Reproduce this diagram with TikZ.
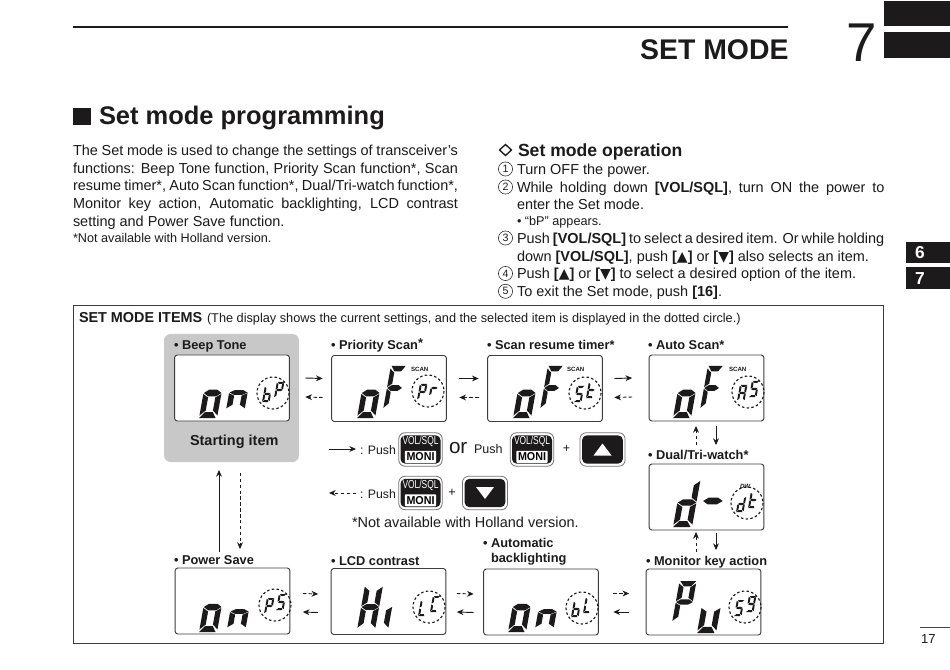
\documentclass[tikz,border=0pt]{standalone}
\usepackage{fontspec}
\setmainfont{Liberation Sans}
\newfontfamily\djv{DejaVu Sans}
\usetikzlibrary{arrows.meta,calc}
\definecolor{ink}{HTML}{1C1A1B}
\definecolor{panel}{HTML}{C8C8C8}
\newcommand\fsz[1]{\fontsize{#1}{#1}\selectfont}
\tikzset{
  ln/.style={anchor=base west,inner sep=0pt,outer sep=0pt,text=ink},
  body/.style={ln,font=\fsz{10.85}},
  small/.style={ln,font=\fsz{9.5}},
  item/.style={ln,font=\bfseries\fsz{9.6}},
  numc/.style={circle,draw=ink,line width=0.4pt,minimum size=10.6pt,inner sep=0pt,outer sep=0pt,text=ink,font=\fsz{8}},
  lcdbox/.style={draw=ink!85!white,line width=0.7pt,rounded corners=2pt,minimum width=86pt,minimum height=49.5pt,inner sep=0pt,outer sep=0pt,fill=white},
  sol/.style={draw=ink,line width=0.7pt,-{Stealth[length=5pt,width=4.4pt]}},
  dsh/.style={draw=ink,line width=0.7pt,dash pattern=on 2.6pt off 1.8pt,-{Stealth[length=5pt,width=4.4pt]}},
  dotc/.style={draw=ink,line width=0.85pt,dash pattern=on 1.9pt off 1.7pt},
  keyout/.style={draw=ink!60!white,line width=0.6pt,fill=white,rounded corners=4.5pt,inner sep=0pt,outer sep=0pt},
  keyin/.style={fill=ink,rounded corners=3.5pt,inner sep=0pt,outer sep=0pt},
  scanlbl/.style={ln,font=\bfseries\fsz{4.6}},
}
% thin segments, for the small characters in the dotted circles
\expandafter\def\csname segXa\endcsname{\fill[ink] (.16,2)--(1,2)--(.74,1.76)--(.3,1.76)--cycle;}
\expandafter\def\csname segXf\endcsname{\fill[ink] (0,1.9)--(.26,1.72)--(.26,1.2)--(0,1.06)--cycle;}
\expandafter\def\csname segXb\endcsname{\fill[ink] (1,1.9)--(.74,1.72)--(.74,1.2)--(1,1.06)--cycle;}
\expandafter\def\csname segXe\endcsname{\fill[ink] (0,.94)--(.26,.8)--(.26,.28)--(0,.1)--cycle;}
\expandafter\def\csname segXc\endcsname{\fill[ink] (1,.94)--(.74,.8)--(.74,.28)--(1,.1)--cycle;}
\expandafter\def\csname segXd\endcsname{\fill[ink] (0,0)--(.84,0)--(.72,.24)--(.28,.24)--cycle;}
\expandafter\def\csname segXg\endcsname{\fill[ink] (.06,1)--(.3,1.14)--(.72,1.14)--(.96,1)--(.72,.86)--(.3,.86)--cycle;}
% heavy segments, for the large characters
\expandafter\def\csname segLa\endcsname{\fill[ink] (.05,2)--(.98,2)--(.74,1.75)--(.3,1.75)--cycle;}
\expandafter\def\csname segLf\endcsname{\fill[ink] (0,1.88)--(.3,1.7)--(.3,1.2)--(0,1.04)--cycle;}
\expandafter\def\csname segLb\endcsname{\fill[ink] (1,1.88)--(.7,1.7)--(.7,1.2)--(1,1.04)--cycle;}
\expandafter\def\csname segLe\endcsname{\fill[ink] (0,.96)--(.3,.82)--(.3,.3)--(0,.1)--cycle;}
\expandafter\def\csname segLc\endcsname{\fill[ink] (1,.96)--(.7,.82)--(.7,.3)--(1,.1)--cycle;}
\expandafter\def\csname segLd\endcsname{\fill[ink] (0,0)--(.92,0)--(.7,.24)--(.28,.24)--cycle;}
\expandafter\def\csname segLg\endcsname{\fill[ink] (.02,1)--(.28,1.13)--(.74,1.13)--(1,1)--(.74,.87)--(.28,.87)--cycle;}
\newcommand\lcdchar[5]{%
  \begin{scope}[shift={(#1,#2)},x=#3*0.75pt,y=#4*0.75pt,xslant=.18]
    \foreach \s in {#5}{\csname segX\s\endcsname}
  \end{scope}}
\newcommand\lcdbig[5]{%
  \begin{scope}[shift={(#1,#2)},x=#3*0.75pt,y=#4*0.75pt,xslant=.18]
    \foreach \s in {#5}{\csname segL\s\endcsname}
  \end{scope}}
\newcommand\lcdpair[4]{%
  \draw[dotc] (#1,#2) circle[radius=16];
  \lcdchar{{#1-11}}{{#2+9}}{7.5}{8}{#3}
  \lcdchar{{#1+1}}{{#2+5}}{7.5}{8}{#4}}
% lists of segments
\def\Cb{c,d,e,f,g}\def\CP{a,b,e,f,g}\def\Cr{e,g}\def\CS{a,f,g,c,d}\def\Ct{d,e,f,g}
\def\CA{a,b,c,e,f,g}\def\Cd{b,c,d,e,g}\def\CL{d,e,f}\def\CC{a,d,e,f}\def\Cnine{a,b,c,d,f,g}
\newcommand\lcdO[2]{\lcdbig{#1}{#2}{18}{25}{c,d,e,g}}
\newcommand\lcdN[2]{\lcdbig{#1}{#2}{18.5}{17.5}{c,e,g}}
\newcommand\lcdF[2]{\lcdbig{#1}{#2}{15}{22}{a,f,e,g}}
\newcommand\lcdP[4]{\edef\tmp{\noexpand\lcdpair{#1}{#2}{\csname C#3\endcsname}{\csname C#4\endcsname}}\tmp}
\newcommand\volkey[3]{%
  \node[keyout,minimum width=32.5pt,minimum height=25pt] (#1) at (#2,#3) {};
  \node[keyin,minimum width=30pt,minimum height=21.2pt] (#1in) at (#1.center) {};
  \node[inner sep=0pt,text=white,font=\fsz{8.4}] (#1top) at ($(#1.center)+(0,-8)$) {\resizebox{27pt}{6.3pt}{VOL/SQL}};
  \node[fill=white,rounded corners=0.6pt,minimum width=23.5pt,minimum height=9pt,inner sep=0pt] (#1low) at ($(#1.center)+(0,7.3)$) {\resizebox{21pt}{6pt}{\bfseries MONI}};}
\newcommand\arrkey[3]{%
  \node[keyout,minimum width=33.8pt,minimum height=25pt] (#1) at (#2,#3) {};
  \node[keyin,minimum width=30.5pt,minimum height=21.2pt] (#1in) at (#1.center) {};}
\newcommand\UP{{\djv\fsz{10.5}▲}}
\newcommand\DN{{\djv\fsz{10.5}▼}}
\begin{document}
\begin{tikzpicture}[x=0.75pt,y=-0.75pt]
\useasboundingbox (0,0) rectangle (950,670);
\fill[white] (0,0) rectangle (950,670);
% header
\coordinate (ruleL) at (73,27); \coordinate (ruleR) at (788,27);
\draw[ink,line width=1.3pt] (ruleL) -- (ruleR);
\node[ln,anchor=base east,font=\bfseries\fsz{21.3}] (chaptitle) at (788.5,60) {SET MODE};
\node[ln,font=\fsz{41}] (chapnum) at (846,62) {7};
\fill[ink] (884,1) rectangle (950,26);
\fill[ink] (884,32) rectangle (950,58);
% section
\fill[ink] (73,108) rectangle (91,125);
\node[ln,font=\bfseries\fsz{19.1}] (sect) at (99,125) {Set mode programming};
% left paragraph
\node[body] (pa) at (73,155.7) {\makebox[288.75pt][s]{The Set mode is used to change the settings of transceiver\char39 s}};
\node[body] (pb) at (73,173.4) {\makebox[288.75pt][s]{functions: Beep Tone function, Priority Scan function*, Scan}};
\node[body] (pc) at (73,190.8) {\makebox[288.75pt][s]{resume timer*, Auto Scan function*, Dual/Tri-watch function*,}};
\node[body] (pd) at (73,208.4) {\makebox[288.75pt][s]{Monitor key action, Automatic backlighting, LCD contrast}};
\node[body] (pe) at (73,226.3) {setting and Power Save function.};
\node[small] (pf) at (73,242.7) {*Not available with Holland version.};
% right column
\draw[ink,line width=1pt] (505.5,144.5) -- (511.5,150) -- (505.5,155.5) -- (499.5,150) -- cycle;
\node[ln,font=\bfseries\fsz{13.2}] (oph) at (518,157) {Set mode operation};
\node[numc] (n1) at (505.5,169) {1};
\node[body] (r1) at (517,174.2) {Turn OFF the power.};
\node[numc] (n2) at (505.5,187) {2};
\node[body] (r2) at (517,192.4) {\makebox[275.5pt][s]{While holding down \textbf{[VOL/SQL]}, turn ON the power to}};
\node[body] (r3) at (517,209.8) {enter the Set mode.};
\node[small] (r4) at (517,225.3) {• “bP” appears.};
\node[numc] (n3) at (505.5,238) {3};
\node[body] (r5) at (517,243.3) {\makebox[275.5pt][s]{Push \textbf{[VOL/SQL]} to select a desired item. Or while holding}};
\node[body] (r6) at (517,261.3) {down \textbf{[VOL/SQL]}, push \textbf{[\UP]} or \textbf{[\DN]} also selects an item.};
\node[numc] (n4) at (505.5,273.5) {4};
\node[body] (r7) at (517,278.5) {Push \textbf{[\UP]} or \textbf{[\DN]} to select a desired option of the item.};
\node[numc] (n5) at (505.5,291.3) {5};
\node[body] (r8) at (517,296.5) {To exit the Set mode, push \textbf{[16]}.};
% side tabs
\fill[ink] (906,242) rectangle (950,263);
\fill[ink] (906,267) rectangle (950,289);
\node[ln,text=white,font=\bfseries\fsz{13}] (tab6) at (915,259) {6};
\node[ln,text=white,font=\bfseries\fsz{13}] (tab7) at (915,285) {7};
% page number
\draw[ink!80!white,line width=0.5pt] (920,627) -- (950,627);
\node[ln,font=\fsz{9.8}] (pageno) at (921,643) {17};
% items frame
\node[draw=ink!85!white,line width=0.75pt,inner sep=0pt,outer sep=0pt,minimum width=607.5pt,minimum height=252.75pt] (frame) at (478,474.5) {};
\node[ln,font=\bfseries\fsz{10.8}] (ttl) at (79,322.8) {SET MODE ITEMS};
\node[small,font=\fsz{9.55}] (ttl2) at (207,322.8) {(The display shows the current settings, and the selected item is displayed in the dotted circle.)};
% grey panel
\node[fill=panel,rounded corners=5pt,inner sep=0pt,outer sep=0pt,minimum width=101.25pt,minimum height=96pt] (start) at (231.5,398) {};
% displays
\node[lcdbox] (beep) at (232,388) {};
\node[lcdbox] (prio) at (389,388.5) {};
\node[lcdbox] (resume) at (545,388.5) {};
\node[lcdbox] (auto) at (706.5,388) {};
\node[lcdbox] (dual) at (706.5,497) {};
\node[lcdbox] (power) at (232.5,601) {};
\node[lcdbox] (lcdc) at (388.5,601.5) {};
\node[lcdbox] (bl) at (541,602) {};
\node[lcdbox] (mon) at (703.5,602) {};
% labels
\node[item] (lb1) at (174,350) {• Beep Tone};
\node[item] (lb2) at (331,350) {• Priority Scan\raisebox{2pt}{*}};
\node[item] (lb3) at (487,350) {• Scan resume timer*};
\node[item] (lb4) at (648,350) {• Auto Scan*};
\node[item] (lb5) at (648,459) {• Dual/Tri-watch*};
\node[item] (lb6) at (174,564) {• Power Save};
\node[item] (lb7) at (331,565) {• LCD contrast};
\node[item] (lb8) at (483,547) {• Automatic};
\node[item] (lb9) at (491,562) {backlighting};
\node[item] (lb10) at (646,565) {• Monitor key action};
\node[ln,font=\bfseries\fsz{10.85}] (startlbl) at (190,445) {Starting item};
\node[scanlbl] (sc1) at (411,372) {SCAN};
\node[scanlbl] (sc2) at (567,372) {SCAN};
\node[scanlbl] (sc3) at (729,372) {SCAN};
\node[ln,font=\bfseries\itshape\fsz{4.6}] (dw) at (740,488) {DW};
% LCD characters
\lcdO{199}{418} \lcdN{226}{410} \lcdP{273}{393}{b}{P}
\lcdO{357}{418} \lcdF{383}{410} \lcdP{428}{391}{P}{r}
\lcdO{513}{418} \lcdF{540}{410} \lcdP{585}{393}{S}{t}
\lcdO{673}{418} \lcdF{700}{410} \lcdP{748}{392}{A}{S}
\lcdbig{673}{527}{19}{24.5}{b,c,d,e,g}
\lcdbig{698}{527}{20}{26}{g}
\lcdP{747}{503}{d}{t}
\lcdO{199}{632} \lcdN{227}{629} \lcdP{275}{605}{P}{S}
\lcdbig{357}{630}{18}{23}{b,c,e,f,g}
\lcdbig{370}{630}{18}{24}{c}
\lcdP{429}{607}{L}{C}
\lcdO{508}{632} \lcdN{535}{629} \lcdP{582}{608}{b}{L}
\lcdbig{672}{623}{17}{21}{a,b,e,f,g}
\lcdbig{697}{633}{19}{26}{c,d,e}
\lcdP{745}{607}{S}{nine}
% connectors, top row
\draw[sol] ($(beep.east)+(16,-10)$) -- ($(prio.west)+(-9,-10)$);
\draw[dsh] ($(prio.west)+(-9,9)$) -- ($(beep.east)+(16,9)$);
\draw[sol] ($(prio.east)+(13,-10)$) -- ($(resume.west)+(-9,-10)$);
\draw[dsh] ($(resume.west)+(-9,9)$) -- ($(prio.east)+(13,9)$);
\draw[sol] ($(resume.east)+(12,-10)$) -- ($(auto.west)+(-17,-10)$);
\draw[dsh] ($(auto.west)+(-17,9)$) -- ($(resume.east)+(12,9)$);
% right column
\draw[dsh] ($(auto.south)+(-10.5,24)$) -- ($(auto.south)+(-10.5,5)$);
\draw[sol] ($(auto.south)+(9.5,5)$) -- ($(auto.south)+(9.5,24)$);
\draw[dsh] ($(dual.south)+(-10.5,22)$) -- ($(dual.south)+(-10.5,2)$);
\draw[sol] ($(dual.south)+(9.5,3)$) -- ($(dual.south)+(9.5,20)$);
% bottom row
\draw[dsh] ($(power.east)+(13,-7.5)$) -- ($(lcdc.west)+(-13,-7.5)$);
\draw[sol] ($(lcdc.west)+(-13,11)$) -- ($(power.east)+(13,11)$);
\draw[dsh] ($(lcdc.east)+(11,-8)$) -- ($(bl.west)+(-10,-8)$);
\draw[sol] ($(bl.west)+(-10,10.5)$) -- ($(lcdc.east)+(11,10.5)$);
\draw[dsh] ($(bl.east)+(15,-8.5)$) -- ($(mon.west)+(-17,-8.5)$);
\draw[sol] ($(mon.west)+(-17,10)$) -- ($(bl.east)+(15,10)$);
% left column
\draw[sol] ($(power.north)+(-13.5,-16)$) -- ($(start.south)+(-12.5,8)$);
\draw[dsh] ($(start.south)+(8.5,11)$) -- ($(power.north)+(7.5,-19)$);
% legend
\coordinate (lega) at (329,449); \coordinate (legb) at (356,449);
\coordinate (legc) at (329,493); \coordinate (legd) at (356,493);
\draw[sol] (lega) -- (legb);
\draw[dsh] (legd) -- (legc);
\node[small,font=\fsz{9.2}] (lt1) at (360,454) {: Push};
\node[small,font=\fsz{9.2}] (lt2) at (360,498) {: Push};
\volkey{ka}{420.5}{449.5}
\node[ln,font=\fsz{15.5}] (ort) at (449,453.5) {or};
\node[small,font=\fsz{9.4}] (lt3) at (474,453.5) {Push};
\volkey{kb}{532}{449.5}
\node[ln,anchor=center,font=\fsz{9.4}] (pl1) at (566.5,449) {+};
\arrkey{kc}{602.5}{449.5}
\fill[white] ($(kc.center)+(-9,6)$) -- ++(18,0) -- ++(-9,-12) -- cycle;
\volkey{kd}{420.5}{493}
\node[ln,anchor=center,font=\fsz{9.4}] (pl2) at (452,493) {+};
\arrkey{ke}{485}{493}
\fill[white] ($(ke.center)+(-9,-6)$) -- ++(18,0) -- ++(-9,12) -- cycle;
\node[body] (note) at (352,527) {*Not available with Holland version.};
\end{tikzpicture}
\end{document}
